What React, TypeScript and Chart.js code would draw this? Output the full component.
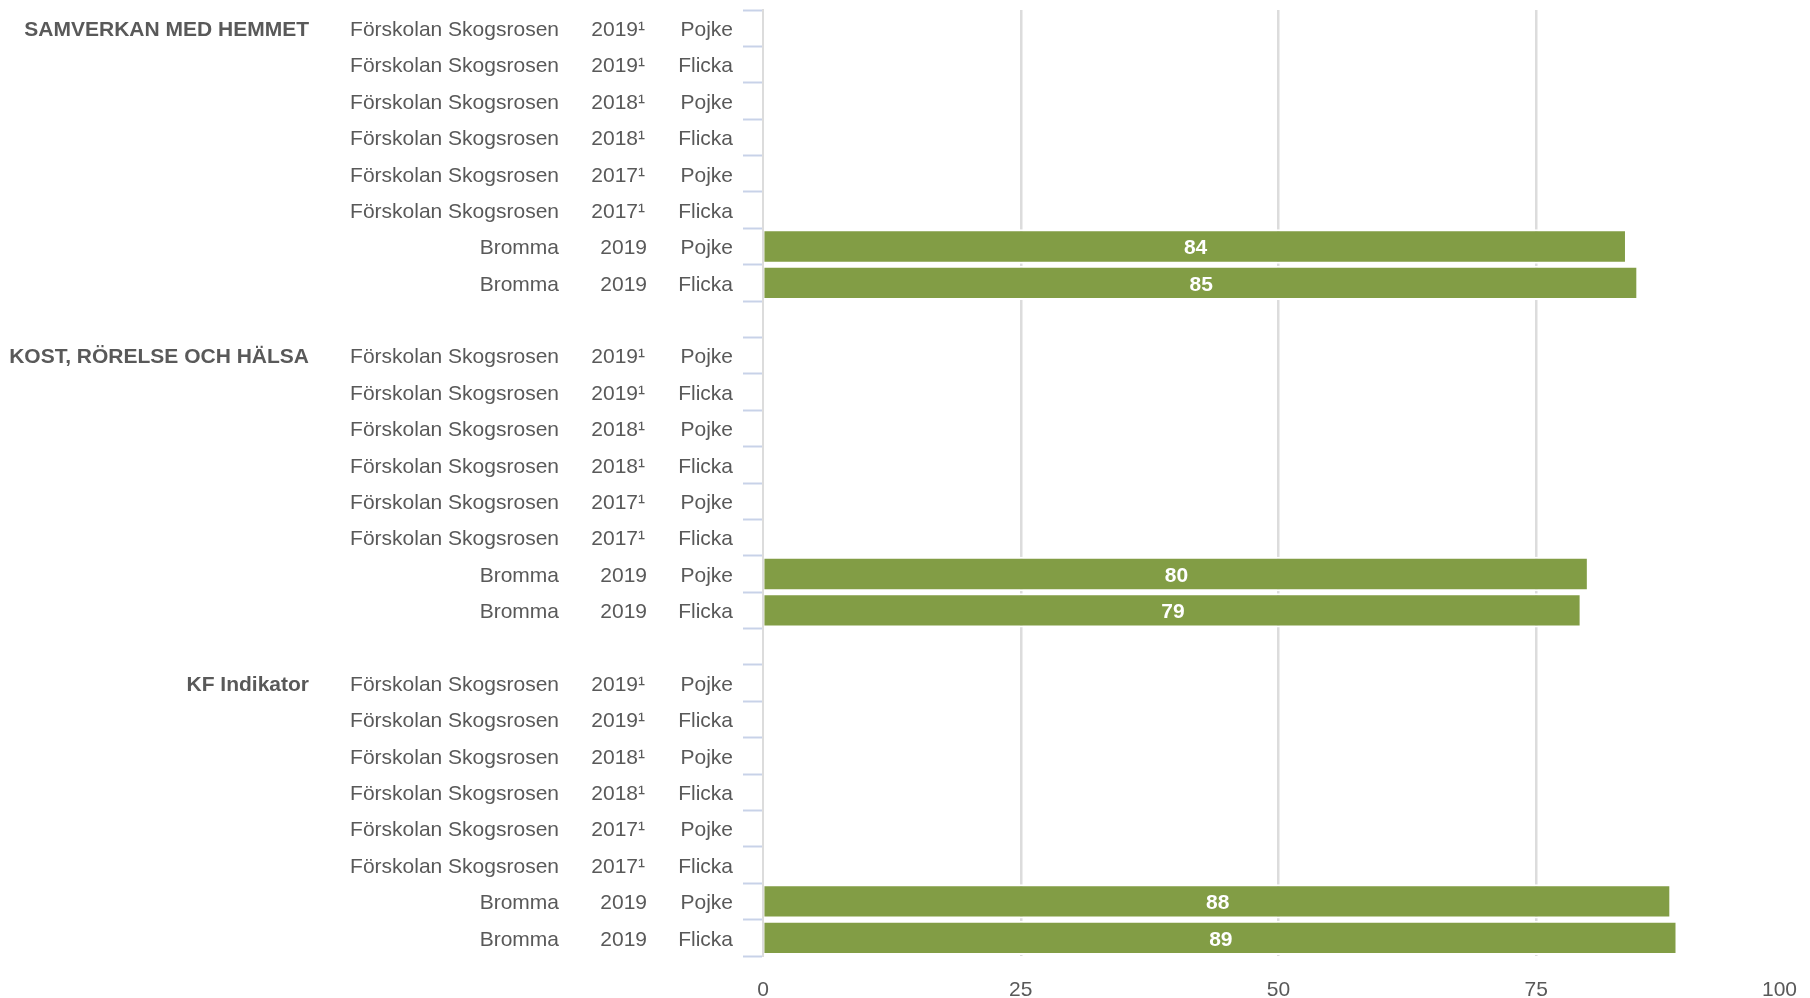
import React, { useEffect, useRef } from "react";
import { Chart, registerables } from "chart.js";

Chart.register(...registerables);

// ---- data ----
const groupNames = ["SAMVERKAN MED HEMMET", "KOST, RÖRELSE OCH HÄLSA", "KF Indikator"];
const units = [
  "Förskolan Skogsrosen",
  "Förskolan Skogsrosen",
  "Förskolan Skogsrosen",
  "Förskolan Skogsrosen",
  "Förskolan Skogsrosen",
  "Förskolan Skogsrosen",
  "Bromma",
  "Bromma",
];
const years = ["2019¹", "2019¹", "2018¹", "2018¹", "2017¹", "2017¹", "2019", "2019"];
const genders = ["Pojke", "Flicka", "Pojke", "Flicka", "Pojke", "Flicka", "Pojke", "Flicka"];
const samverkanValues = [null, null, null, null, null, null, 83.8, 84.9];
const kostValues = [null, null, null, null, null, null, 80.1, 79.4];
const kfValues = [null, null, null, null, null, null, 88.1, 88.7];
const groupValues = [samverkanValues, kostValues, kfValues];
const xTicks = [0, 25, 50, 75, 100];

type Row = { group: string | null; unit: string; year: string; gender: string; value: number | null } | null;

const rows: Row[] = [];
groupNames.forEach((g, gi) => {
  units.forEach((u, i) => {
    rows.push({ group: i === 0 ? g : null, unit: u, year: years[i], gender: genders[i], value: groupValues[gi][i] });
  });
  if (gi < groupNames.length - 1) rows.push(null);
});

const categoryLabels = rows.map((r, i) => (r ? `${r.unit} ${r.year} ${r.gender} ${i}` : `gap ${i}`));
const barData = rows.map((r) => (r ? r.value : null));

const FONT = "'Liberation Sans', Arial, Helvetica, sans-serif";
const TEXT = "#595959";

const labelsPlugin = {
  id: "labelsPlugin",
  afterDatasetsDraw(chart: any) {
    const ctx = chart.ctx;
    const meta = chart.getDatasetMeta(0);
    ctx.save();
    ctx.font = `bold 21px ${FONT}`;
    ctx.fillStyle = "#ffffff";
    ctx.textAlign = "center";
    ctx.textBaseline = "middle";
    meta.data.forEach((el: any, i: number) => {
      const v = barData[i];
      if (v == null) return;
      const cx = (el.x + el.base) / 2;
      ctx.fillText(String(Math.round(v)), cx, el.y + 2);
    });
    ctx.restore();
  },
  afterDraw(chart: any) {
    const ctx = chart.ctx;
    const y = chart.scales.y;
    const x = chart.scales.x;
    const left = chart.chartArea.left;
    ctx.save();
    ctx.textBaseline = "middle";
    ctx.fillStyle = TEXT;
    rows.forEach((r, i) => {
      if (!r) return;
      const py = y.getPixelForValue(i) + 2;
      ctx.font = `21px ${FONT}`;
      ctx.textAlign = "right";
      ctx.fillText(r.gender, left - 30, py);
      ctx.fillText(r.year, r.year.includes("¹") ? left - 118 : left - 116, py);
      ctx.fillText(r.unit, left - 204, py);
      if (r.group) {
        ctx.font = `bold 21px ${FONT}`;
        ctx.fillText(r.group, left - 454, py);
      }
    });
    // x tick labels
    ctx.font = `21px ${FONT}`;
    ctx.textAlign = "center";
    const maxRight = chart.chartArea.right + 3;
    xTicks.forEach((t) => {
      const label = String(t);
      const w = ctx.measureText(label).width;
      let px = x.getPixelForValue(t);
      if (px + w / 2 > maxRight) px = maxRight - w / 2;
      ctx.fillText(label, px, chart.chartArea.bottom + 34);
    });
    ctx.restore();
  },
};

export default function App() {
  const canvasRef = useRef<HTMLCanvasElement | null>(null);

  useEffect(() => {
    document.body.style.margin = "0";
    document.body.style.overflow = "hidden";
    const canvas = canvasRef.current;
    if (!canvas) return;
    const chart = new Chart(canvas, {
      type: "bar",
      data: {
        labels: categoryLabels,
        datasets: [
          {
            data: barData as any,
            backgroundColor: "#829d45",
            borderColor: "#ffffff",
            borderWidth: 2,
            borderSkipped: "start",
            barPercentage: 0.944,
            categoryPercentage: 1,
          },
        ],
      },
      options: {
        indexAxis: "y",
        responsive: false,
        animation: false,
        devicePixelRatio: 1,
        layout: { padding: { top: 10, right: 16, left: 0, bottom: 0 } },
        plugins: {
          legend: { display: false },
          tooltip: { enabled: false },
          title: { display: false },
        },
        scales: {
          x: {
            type: "linear",
            min: 0,
            max: 100,
            ticks: { display: false, stepSize: 25 },
            grid: {
              drawTicks: false,
              lineWidth: 2.5,
              color: (c: any) =>
                c.tick && (c.tick.value === 0 || c.tick.value === 100) ? "rgba(0,0,0,0)" : "#dcdcdc",
            },
            border: { display: false },
            afterFit: (s: any) => {
              s.height = 42;
            },
          },
          y: {
            type: "category",
            offset: true,
            ticks: { display: false, autoSkip: false },
            grid: {
              offset: true,
              drawOnChartArea: false,
              drawTicks: true,
              tickLength: 20,
              tickWidth: 2,
              tickColor: "#c8d2e8",
            },
            border: { display: true, color: "#dcdcdc", width: 2 },
            afterFit: (s: any) => {
              s.width = 763;
            },
          },
        },
      },
      plugins: [labelsPlugin],
    });
    return () => chart.destroy();
  }, []);

  return (
    <div style={{ width: 1810, height: 998, position: "relative" }}>
      <canvas ref={canvasRef} width={1810} height={998} style={{ display: "block" }} />
    </div>
  );
}
